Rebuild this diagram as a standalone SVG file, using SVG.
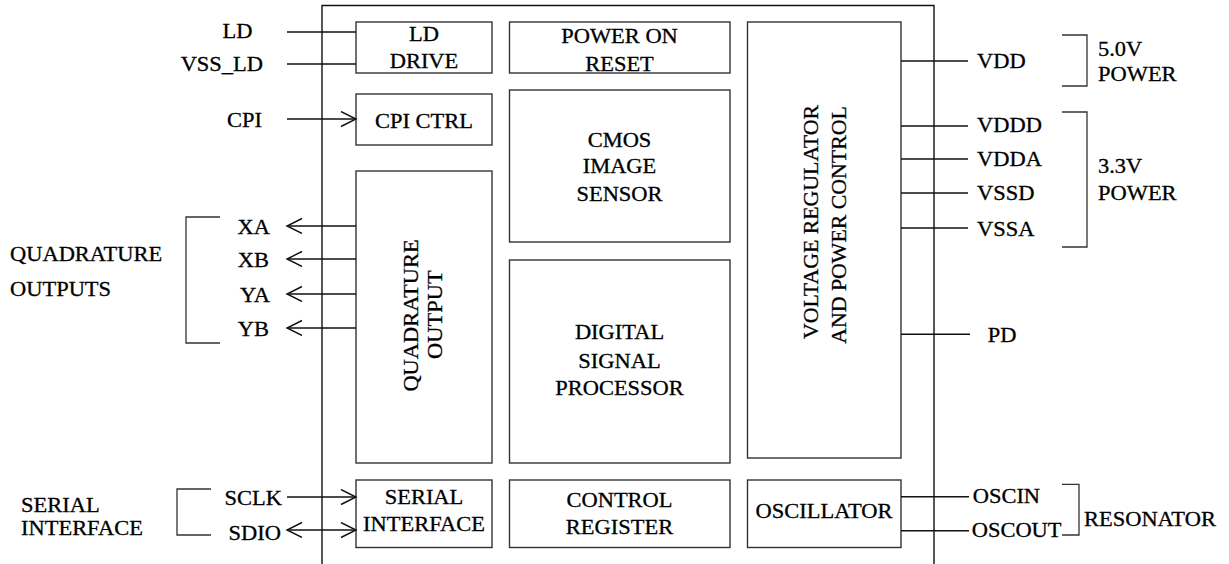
<svg xmlns="http://www.w3.org/2000/svg" width="1229" height="564" viewBox="0 0 1229 564" font-family="'Liberation Serif', 'Times New Roman', serif">
<style>
.box{fill:none;stroke:#333;stroke-width:1.4}
.ln{fill:none;stroke:#111;stroke-width:1.4}
.br{fill:none;stroke:#333;stroke-width:1.3}
text{font-family:'Liberation Serif','Times New Roman',serif;font-size:21px;fill:#000;stroke:#000;stroke-width:0.3}
.m{text-anchor:middle}
.e{text-anchor:end}
</style>
<defs>
<marker id="arr" markerUnits="userSpaceOnUse" markerWidth="20" markerHeight="18" refX="16" refY="8" orient="auto-start-reverse">
<path d="M1,0.5 L16,8 L1,15.5" fill="none" stroke="#111" stroke-width="1.4"/>
</marker>
</defs>
<rect width="1229" height="564" fill="#fff"/>

<g id="chip"><path class="ln" d="M322,564 V5.5 H934 V564"/></g>

<g id="ld-drive"><rect class="box" x="356" y="22" width="136" height="51"/>
<text class="m" transform="translate(424,41) scale(1.07,1)">LD</text>
<text class="m" transform="translate(424,68) scale(1.07,1)">DRIVE</text></g>

<g id="power-on-reset"><rect class="box" x="509.5" y="22" width="220.5" height="51"/>
<text class="m" transform="translate(619.5,43) scale(1.07,1)">POWER ON</text>
<text class="m" transform="translate(619.5,70.5) scale(1.07,1)">RESET</text></g>

<g id="voltage-regulator"><rect class="box" x="747.5" y="22" width="153.5" height="436"/>
<text class="m" transform="translate(818.3,222) rotate(-90) scale(1.04,1)">VOLTAGE REGULATOR</text>
<text class="m" transform="translate(846,225) rotate(-90) scale(1.04,1)">AND POWER CONTROL</text></g>

<g id="cpi-ctrl"><rect class="box" x="356" y="94" width="136" height="51"/>
<text class="m" transform="translate(424,128.3) scale(1.07,1)">CPI CTRL</text></g>

<g id="cmos"><rect class="box" x="509.5" y="90" width="220.5" height="152"/>
<text class="m" transform="translate(619.5,146.5) scale(1.07,1)">CMOS</text>
<text class="m" transform="translate(619.5,173) scale(1.07,1)">IMAGE</text>
<text class="m" transform="translate(619.5,201) scale(1.07,1)">SENSOR</text></g>

<g id="quadrature-output"><rect class="box" x="356" y="171" width="136" height="292"/>
<text class="m" transform="translate(418.3,315.5) rotate(-90) scale(1.07,1)">QUADRATURE</text>
<text class="m" transform="translate(442,314.7) rotate(-90) scale(1.07,1)">OUTPUT</text></g>

<g id="dsp"><rect class="box" x="509.5" y="260" width="220.5" height="203"/>
<text class="m" transform="translate(619.5,339) scale(1.07,1)">DIGITAL</text>
<text class="m" transform="translate(619.5,368) scale(1.07,1)">SIGNAL</text>
<text class="m" transform="translate(619.5,395) scale(1.07,1)">PROCESSOR</text></g>

<g id="serial-interface"><rect class="box" x="356" y="480" width="136" height="67.5"/>
<text class="m" transform="translate(424,504) scale(1.07,1)">SERIAL</text>
<text class="m" transform="translate(424,531) scale(1.07,1)">INTERFACE</text></g>

<g id="control-register"><rect class="box" x="509.5" y="480" width="220.5" height="67.5"/>
<text class="m" transform="translate(619.5,506.5) scale(1.07,1)">CONTROL</text>
<text class="m" transform="translate(619.5,534) scale(1.07,1)">REGISTER</text></g>

<g id="oscillator"><rect class="box" x="747.5" y="480" width="153.5" height="67.5"/>
<text class="m" transform="translate(824,518) scale(1.07,1)">OSCILLATOR</text></g>

<g id="connectors">
<line class="ln" x1="287" y1="32" x2="356" y2="32"/>
<line class="ln" x1="287" y1="64" x2="356" y2="64"/>
<line class="ln" x1="287" y1="119" x2="356" y2="119" marker-end="url(#arr)"/>
<line class="ln" x1="356" y1="226" x2="287" y2="226" marker-end="url(#arr)"/>
<line class="ln" x1="356" y1="259" x2="287" y2="259" marker-end="url(#arr)"/>
<line class="ln" x1="356" y1="294" x2="287" y2="294" marker-end="url(#arr)"/>
<line class="ln" x1="356" y1="328" x2="287" y2="328" marker-end="url(#arr)"/>
<line class="ln" x1="287" y1="497" x2="356" y2="497" marker-end="url(#arr)"/>
<line class="ln" x1="287" y1="530" x2="356" y2="530" marker-start="url(#arr)" marker-end="url(#arr)"/>
<line class="ln" x1="901" y1="61" x2="968" y2="61"/>
<line class="ln" x1="901" y1="126" x2="968" y2="126"/>
<line class="ln" x1="901" y1="159" x2="968" y2="159"/>
<line class="ln" x1="901" y1="193" x2="968" y2="193"/>
<line class="ln" x1="901" y1="228" x2="968" y2="228"/>
<line class="ln" x1="901" y1="334.3" x2="970" y2="334.3"/>
<line class="ln" x1="901" y1="496.7" x2="969" y2="496.7"/>
<line class="ln" x1="901" y1="530.7" x2="969" y2="530.7"/>
</g>

<g id="brackets">
<path class="br" d="M220,217 H186 V343 H220"/>
<path class="br" d="M211,489 H177 V535 H211"/>
<path class="br" d="M1062,35 H1087 V86 H1062"/>
<path class="br" d="M1062,112 H1087 V247 H1062"/>
<path class="br" d="M1062,484.3 H1079 V535 H1062"/>
</g>

<g id="pin-labels">
<text class="m" transform="translate(237.5,37.5) scale(1.07,1)">LD</text>
<text class="e" transform="translate(263,70.5) scale(1.07,1)">VSS_LD</text>
<text class="e" transform="translate(262,127) scale(1.07,1)">CPI</text>
<text class="e" transform="translate(270,234) scale(1.07,1)">XA</text>
<text class="e" transform="translate(269,266.5) scale(1.07,1)">XB</text>
<text class="e" transform="translate(270,301.5) scale(1.07,1)">YA</text>
<text class="e" transform="translate(269,335.5) scale(1.07,1)">YB</text>
<text transform="translate(10,260.5) scale(1.07,1)">QUADRATURE</text>
<text transform="translate(10,296) scale(1.07,1)">OUTPUTS</text>
<text class="e" transform="translate(282,505) scale(1.07,1)">SCLK</text>
<text class="e" transform="translate(281,540) scale(1.07,1)">SDIO</text>
<text transform="translate(21,512) scale(1.07,1)">SERIAL</text>
<text transform="translate(21,535) scale(1.07,1)">INTERFACE</text>
<text transform="translate(977,68) scale(1.07,1)">VDD</text>
<text transform="translate(977,132) scale(1.07,1)">VDDD</text>
<text transform="translate(977,165.5) scale(1.07,1)">VDDA</text>
<text transform="translate(977,200) scale(1.07,1)">VSSD</text>
<text transform="translate(977,235.5) scale(1.07,1)">VSSA</text>
<text transform="translate(987.7,341.5) scale(1.07,1)">PD</text>
<text transform="translate(1098,56) scale(1.07,1)">5.0V</text>
<text transform="translate(1098,81) scale(1.07,1)">POWER</text>
<text transform="translate(1098,173) scale(1.07,1)">3.3V</text>
<text transform="translate(1098,200) scale(1.07,1)">POWER</text>
<text transform="translate(972.7,503) scale(1.07,1)">OSCIN</text>
<text transform="translate(971.7,536.5) scale(1.07,1)">OSCOUT</text>
<text transform="translate(1084,525.5) scale(1.07,1)">RESONATOR</text>
</g>
</svg>
